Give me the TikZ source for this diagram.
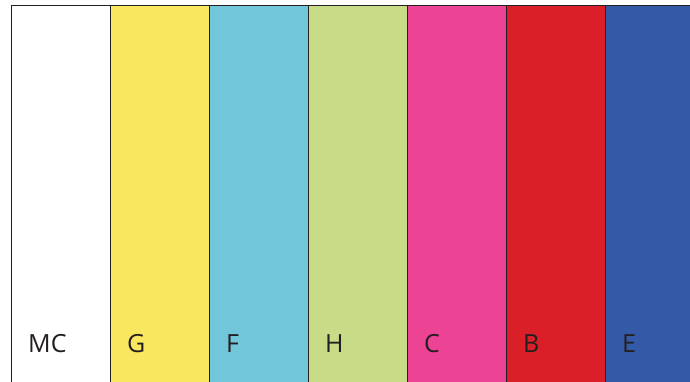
\documentclass[tikz,border=0pt]{standalone}
\usepackage{fontspec}
\setmainfont{Open Sans}
\definecolor{bandyellow}{HTML}{F9E85F}
\definecolor{bandcyan}{HTML}{72C6DA}
\definecolor{bandgreen}{HTML}{C8DC87}
\definecolor{bandpink}{HTML}{EC4394}
\definecolor{bandred}{HTML}{DA1F28}
\definecolor{bandblue}{HTML}{3459A6}
\definecolor{bandline}{HTML}{231F20}
\tikzset{
  band/.style={draw=bandline, line width=1pt, anchor=north west, inner sep=0pt,
    minimum width=99pt, minimum height=400pt},
  bandlbl/.style={anchor=base west, inner sep=0pt, text=bandline,
    font=\fontsize{25}{29}\selectfont}
}
\begin{document}
\begin{tikzpicture}[x=1pt,y=1pt]
    % page frame
    \useasboundingbox (0,0) rectangle (690,-382);
    \clip (0,0) rectangle (690,-382);
    % colour bands with their letters
    \foreach \name/\col/\lbl [count=\i from 0] in {mc/white/MC, g/bandyellow/G, f/bandcyan/F,
        h/bandgreen/H, c/bandpink/C, b/bandred/B, e/bandblue/E} {
      \node[band, fill=\col] (\name) at (11+99*\i,-5) {};
      \node[bandlbl] (\name-lbl) at (28+99*\i,-352.5) {\lbl};
    }
  \end{tikzpicture}
\end{document}
